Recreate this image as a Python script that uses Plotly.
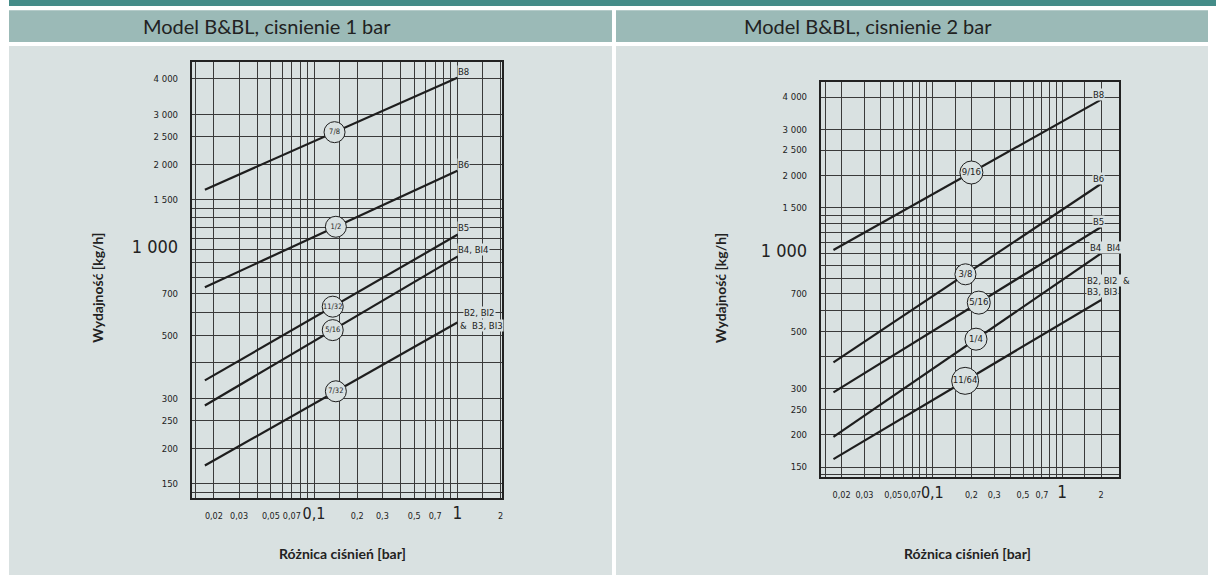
import math
import plotly.graph_objects as go

W, H = 1216, 575
BG_PANEL = "#d9e1e1"
BG_HEADER = "#9bbab7"
TEAL = "#448c88"
INK = "#1e1e1e"
GRID = "#3a3a3a"
NARROW = "Liberation Sans Narrow, DejaVu Sans Condensed, Roboto Condensed, Liberation Sans, sans-serif"
TITLEF = "Lato, Noto Sans, sans-serif"

# ---------------- data: left chart (inlet pressure 1 bar) ----------------
l_sizes = ["7/8", "1/2", "11/32", "5/16", "7/32"]
l_dp = [0.0173, 1.0]
l_q_start = [1630, 739, 347, 283, 174]
l_q_end = [4040, 1900, 1130, 947, 555]
l_label_dp = [0.139, 0.142, 0.135, 0.135, 0.142]
l_models = ["B8", "B6", "B5", "B4, BI4", "B2, BI2", "&  B3, BI3"]
l_model_dp = [1.0, 1.0, 1.0, 1.0, 1.1, 1.03]
l_model_q = [4250, 2000, 1200, 1000, 600, 541]

# ---------------- data: right chart (inlet pressure 2 bar) ----------------
r_sizes = ["9/16", "3/8", "5/16", "1/4", "11/64"]
r_dp = [0.0173, 2.0]
r_q_start = [1030, 380, 291, 196, 161]
r_q_end = [3910, 1853, 1263, 1000, 661]
r_label_dp = [0.20, 0.18, 0.228, 0.217, 0.179]
r_circle = [23, 21, 23, 22, 27]
r_models = ["B8", "B6", "B5", "B4  BI4", "B2, BI2  &", "B3, BI3"]
r_model_dp = [1.7, 1.7, 1.7, 1.62, 1.54, 1.54]
r_model_q = [4100, 1950, 1330, 1057, 789, 711]

# ---------------- axis ticks ----------------
x_tickvals = [0.02, 0.03, 0.05, 0.07, 0.1, 0.2, 0.3, 0.5, 0.7, 1, 2]
x_ticktext = ["0,02", "0,03", "0,05", "0,07", "<span style='font-size:16px'>0,1</span>",
              "0,2", "0,3", "0,5", "0,7", "<span style='font-size:17px'>1</span>", "2"]
x_minor = [0.015, 0.04, 0.06, 0.08, 0.09, 0.15, 0.4, 0.6, 0.8, 0.9, 1.5]
y_tickvals = [150, 200, 250, 300, 500, 700, 1000, 1500, 2000, 2500, 3000, 4000]
y_ticktext = ["150", "200", "250", "300", "500", "700", "<span style='font-size:18px'>1 000</span>",
              "1 500", "2 000", "2 500", "3 000", "4 000"]
y_minor = [140, 400, 600, 800, 900, 1100, 1200, 1300, 1400]

fig = go.Figure()


def on_line(x0, x1, y0, y1, x):
    t = (math.log10(x) - math.log10(x0)) / (math.log10(x1) - math.log10(x0))
    return 10 ** (math.log10(y0) + t * (math.log10(y1) - math.log10(y0)))


def add_chart(xa, ya, dp, q0, q1, sizes, label_dp, csize, tsize):
    for i in range(len(sizes)):
        fig.add_trace(go.Scatter(x=dp, y=[q0[i], q1[i]], mode="lines",
                                 line=dict(color=INK, width=2.2),
                                 xaxis=xa, yaxis=ya, showlegend=False, hoverinfo="skip"))
    for i in range(len(sizes)):
        fig.add_trace(go.Scatter(
            x=[label_dp[i]], y=[on_line(dp[0], dp[1], q0[i], q1[i], label_dp[i])],
            mode="markers+text", text=[sizes[i]], textposition="middle center",
            textfont=dict(family=NARROW, size=tsize, color=INK),
            marker=dict(symbol="circle", size=csize[i], color=BG_PANEL,
                        line=dict(color=INK, width=1)),
            xaxis=xa, yaxis=ya, showlegend=False, hoverinfo="skip"))


add_chart("x", "y", l_dp, l_q_start, l_q_end, l_sizes, l_label_dp, [21] * 5, 7.5)
add_chart("x2", "y2", r_dp, r_q_start, r_q_end, r_sizes, r_label_dp, r_circle, 9.5)


def xaxis(domain, rng):
    return dict(type="log", domain=domain, range=rng, tickmode="array",
                tickvals=x_tickvals, ticktext=x_ticktext, tickangle=0, automargin=False,
                tickfont=dict(family=NARROW, size=9, color="#222"),
                showgrid=True, gridcolor=GRID, gridwidth=1, zeroline=False,
                showline=True, linecolor="#222", linewidth=1.5, mirror=True,
                ticks="", ticklabelstandoff=9,
                minor=dict(tickmode="array", tickvals=x_minor, showgrid=True,
                           gridcolor=GRID, gridwidth=1, ticks=""))


def yaxis(domain, rng, anchor):
    return dict(type="log", domain=domain, range=rng, anchor=anchor, tickmode="array",
                tickvals=y_tickvals, ticktext=y_ticktext, automargin=False,
                tickfont=dict(family=NARROW, size=9.5, color="#222"),
                showgrid=True, gridcolor=GRID, gridwidth=1, zeroline=False,
                showline=True, linecolor="#222", linewidth=1.5, mirror=True,
                ticks="", ticklabelstandoff=10,
                minor=dict(tickmode="array", tickvals=y_minor, showgrid=True,
                           gridcolor=GRID, gridwidth=1, ticks=""))


L = dict(x0=191.7, x1=502.0, y0=62.0, y1=497.7)
R = dict(x0=820.7, x1=1118.7, y0=82.3, y1=476.5)

fig.update_layout(
    width=W, height=H, margin=dict(l=0, r=0, t=0, b=0, autoexpand=False),
    paper_bgcolor="white", plot_bgcolor=BG_PANEL,
    xaxis=dict(xaxis([L["x0"] / W, L["x1"] / W], [math.log10(0.014), math.log10(2.05)]), anchor="y"),
    yaxis=yaxis([1 - L["y1"] / H, 1 - L["y0"] / H], [math.log10(134), math.log10(4590)], "x"),
    xaxis2=dict(xaxis([R["x0"] / W, R["x1"] / W], [math.log10(0.0138), math.log10(2.73)]), anchor="y2"),
    yaxis2=yaxis([1 - R["y1"] / H, 1 - R["y0"] / H], [math.log10(138), math.log10(4560)], "x2"),
)


def prect(x0, y0, x1, y1, color):
    fig.add_shape(type="rect", xref="paper", yref="paper", x0=x0 / W, x1=x1 / W,
                  y0=1 - y1 / H, y1=1 - y0 / H, fillcolor=color, line=dict(width=0), layer="below")


prect(9, 0, W, 6, TEAL)
prect(9, 10.3, 612, 42, BG_HEADER)
prect(616, 10.3, 1208, 42, BG_HEADER)
prect(9, 46, 612, H, BG_PANEL)
prect(616, 46, 1208, H, BG_PANEL)


def ptext(x, y, text, size, family, color="#222", angle=0, weight="normal"):
    fig.add_annotation(xref="paper", yref="paper", x=x / W, y=1 - y / H, text=text,
                       showarrow=False, textangle=angle, xanchor="center", yanchor="middle",
                       font=dict(size=size, family=family, color=color, weight=weight))


ptext(267, 26, "Model B&BL, cisnienie 1 bar", 20, TITLEF)
ptext(867.5, 26, "Model B&BL, cisnienie 2 bar", 20, TITLEF)
ptext(96.7, 288, "Wydajność [kg/h]", 14, TITLEF, angle=-90, weight="bold")
ptext(720, 288, "Wydajność [kg/h]", 14, TITLEF, angle=-90, weight="bold")
ptext(342.7, 553, "Różnica ciśnień [bar]", 14, TITLEF, weight="bold")
ptext(967.5, 553, "Różnica ciśnień [bar]", 14, TITLEF, weight="bold")


def model_labels(xr, yr, names, dps, qs):
    for n, d, q in zip(names, dps, qs):
        fig.add_annotation(xref=xr, yref=yr, x=math.log10(d), y=math.log10(q), text=n,
                           showarrow=False, xanchor="left", yanchor="middle",
                           bgcolor=BG_PANEL, borderpad=0,
                           font=dict(family=NARROW, size=9.5, color="#222"))


model_labels("x", "y", l_models, l_model_dp, l_model_q)
model_labels("x2", "y2", r_models, r_model_dp, r_model_q)

fig.write_html("out.html", config={"displayModeBar": False},
               post_script="document.body.style.margin='0';document.body.style.overflow='hidden';")
